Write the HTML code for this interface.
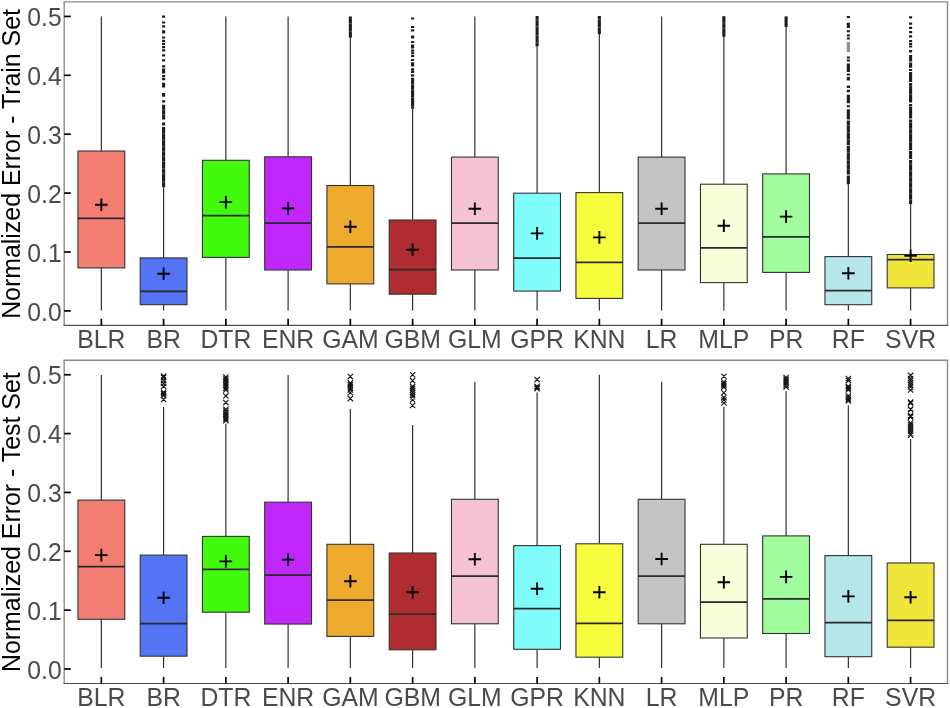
<!DOCTYPE html>
<html><head><meta charset="utf-8"><title>Normalized Error boxplots</title>
<style>html,body{margin:0;padding:0;background:#fff;}svg{display:block;}text{font-family:"Liberation Sans",sans-serif;}.t{opacity:0.999;}</style></head><body>
<svg width="950" height="708" viewBox="0 0 950 708">
<rect x="0" y="0" width="950" height="708" fill="#ffffff"/>
<g class="t">
<path d="M64.2 325.4V1.85H947.5V325.4" fill="none" stroke="#8c8c8c" stroke-width="1.4"/>
<path d="M63.5 325.4H948.2" fill="none" stroke="#4f4f4f" stroke-width="1.1"/>
<path d="M101.35 16.5V151.05M101.35 267.9V310.5" stroke="#333333" stroke-width="1.2" fill="none"/>
<rect x="77.95" y="151.05" width="46.8" height="116.85" fill="#F37D73" stroke="#333333" stroke-width="1.1"/>
<path d="M77.95 218.4H124.75" stroke="#2a2a2a" stroke-width="1.75" fill="none"/>
<path d="M95.05 204.7H107.65M101.35 198.40V211.00" stroke="#000" stroke-width="1.9" fill="none"/>
<path d="M163.60 187.2V257.9M163.60 304.7V310.5" stroke="#333333" stroke-width="1.2" fill="none"/>
<rect x="140.20" y="257.9" width="46.8" height="46.80" fill="#5573F5" stroke="#333333" stroke-width="1.1"/>
<path d="M140.20 291.3H187.00" stroke="#2a2a2a" stroke-width="1.75" fill="none"/>
<path d="M157.30 273.7H169.90M163.60 267.40V280.00" stroke="#000" stroke-width="1.9" fill="none"/>
<path d="M225.85 16.5V160.3M225.85 257.4V310.5" stroke="#333333" stroke-width="1.2" fill="none"/>
<rect x="202.45" y="160.3" width="46.8" height="97.10" fill="#42FA0C" stroke="#333333" stroke-width="1.1"/>
<path d="M202.45 215.5H249.25" stroke="#2a2a2a" stroke-width="1.75" fill="none"/>
<path d="M219.55 202.1H232.15M225.85 195.80V208.40" stroke="#000" stroke-width="1.9" fill="none"/>
<path d="M288.10 16.5V156.8M288.10 270.0V310.5" stroke="#333333" stroke-width="1.2" fill="none"/>
<rect x="264.70" y="156.8" width="46.8" height="113.20" fill="#C027FA" stroke="#333333" stroke-width="1.1"/>
<path d="M264.70 223.2H311.50" stroke="#2a2a2a" stroke-width="1.75" fill="none"/>
<path d="M281.80 208.4H294.40M288.10 202.10V214.70" stroke="#000" stroke-width="1.9" fill="none"/>
<path d="M350.35 37.7V185.5M350.35 283.9V310.5" stroke="#333333" stroke-width="1.2" fill="none"/>
<rect x="326.95" y="185.5" width="46.8" height="98.40" fill="#EDAA2C" stroke="#333333" stroke-width="1.1"/>
<path d="M326.95 246.8H373.75" stroke="#2a2a2a" stroke-width="1.75" fill="none"/>
<path d="M344.05 226.8H356.65M350.35 220.50V233.10" stroke="#000" stroke-width="1.9" fill="none"/>
<path d="M412.60 108.7V220.0M412.60 294.2V310.5" stroke="#333333" stroke-width="1.2" fill="none"/>
<rect x="389.20" y="220.0" width="46.8" height="74.20" fill="#AF2D30" stroke="#333333" stroke-width="1.1"/>
<path d="M389.20 269.7H436.00" stroke="#2a2a2a" stroke-width="1.75" fill="none"/>
<path d="M406.30 249.7H418.90M412.60 243.40V256.00" stroke="#000" stroke-width="1.9" fill="none"/>
<path d="M474.85 16.5V157.1M474.85 270.0V310.5" stroke="#333333" stroke-width="1.2" fill="none"/>
<rect x="451.45" y="157.1" width="46.8" height="112.90" fill="#F5C2D3" stroke="#333333" stroke-width="1.1"/>
<path d="M451.45 223.2H498.25" stroke="#2a2a2a" stroke-width="1.75" fill="none"/>
<path d="M468.55 208.7H481.15M474.85 202.40V215.00" stroke="#000" stroke-width="1.9" fill="none"/>
<path d="M537.10 46.5V193.2M537.10 291.05V310.5" stroke="#333333" stroke-width="1.2" fill="none"/>
<rect x="513.70" y="193.2" width="46.8" height="97.85" fill="#80FCFA" stroke="#333333" stroke-width="1.1"/>
<path d="M513.70 258.2H560.50" stroke="#2a2a2a" stroke-width="1.75" fill="none"/>
<path d="M530.80 233.4H543.40M537.10 227.10V239.70" stroke="#000" stroke-width="1.9" fill="none"/>
<path d="M599.35 34.1V192.6M599.35 298.4V310.5" stroke="#333333" stroke-width="1.2" fill="none"/>
<rect x="575.95" y="192.6" width="46.8" height="105.80" fill="#F6FD3C" stroke="#333333" stroke-width="1.1"/>
<path d="M575.95 262.4H622.75" stroke="#2a2a2a" stroke-width="1.75" fill="none"/>
<path d="M593.05 237.4H605.65M599.35 231.10V243.70" stroke="#000" stroke-width="1.9" fill="none"/>
<path d="M661.60 16.5V157.1M661.60 270.0V310.5" stroke="#333333" stroke-width="1.2" fill="none"/>
<rect x="638.20" y="157.1" width="46.8" height="112.90" fill="#C4C4C4" stroke="#333333" stroke-width="1.1"/>
<path d="M638.20 223.2H685.00" stroke="#2a2a2a" stroke-width="1.75" fill="none"/>
<path d="M655.30 208.7H667.90M661.60 202.40V215.00" stroke="#000" stroke-width="1.9" fill="none"/>
<path d="M723.85 36.8V184.2M723.85 282.6V310.5" stroke="#333333" stroke-width="1.2" fill="none"/>
<rect x="700.45" y="184.2" width="46.8" height="98.40" fill="#F8FED9" stroke="#333333" stroke-width="1.1"/>
<path d="M700.45 247.9H747.25" stroke="#2a2a2a" stroke-width="1.75" fill="none"/>
<path d="M717.55 225.8H730.15M723.85 219.50V232.10" stroke="#000" stroke-width="1.9" fill="none"/>
<path d="M786.10 27.0V173.9M786.10 272.4V310.5" stroke="#333333" stroke-width="1.2" fill="none"/>
<rect x="762.70" y="173.9" width="46.8" height="98.50" fill="#A0FC9D" stroke="#333333" stroke-width="1.1"/>
<path d="M762.70 236.8H809.50" stroke="#2a2a2a" stroke-width="1.75" fill="none"/>
<path d="M779.80 216.6H792.40M786.10 210.30V222.90" stroke="#000" stroke-width="1.9" fill="none"/>
<path d="M848.35 184.2V256.6M848.35 304.7V310.5" stroke="#333333" stroke-width="1.2" fill="none"/>
<rect x="824.95" y="256.6" width="46.8" height="48.10" fill="#B6E5EA" stroke="#333333" stroke-width="1.1"/>
<path d="M824.95 290.5H871.75" stroke="#2a2a2a" stroke-width="1.75" fill="none"/>
<path d="M842.05 273.2H854.65M848.35 266.90V279.50" stroke="#000" stroke-width="1.9" fill="none"/>
<path d="M910.60 204.0V254.5M910.60 287.9V310.5" stroke="#333333" stroke-width="1.2" fill="none"/>
<rect x="887.20" y="254.5" width="46.8" height="33.40" fill="#F0E53B" stroke="#333333" stroke-width="1.1"/>
<path d="M887.20 259.5H934.00" stroke="#2a2a2a" stroke-width="1.75" fill="none"/>
<path d="M904.30 255.8H916.90M910.60 249.50V262.10" stroke="#000" stroke-width="1.9" fill="none"/>
<path d="M162.05 15.60h3.1v2.20h-3.1zM162.05 21.40h3.1v2.20h-3.1zM162.05 25.30h3.1v2.20h-3.1zM162.05 36.40h3.1v2.20h-3.1zM162.05 39.80h3.1v2.20h-3.1zM162.05 42.70h3.1v2.20h-3.1zM162.05 46.10h3.1v2.20h-3.1zM162.05 49.20h3.1v2.20h-3.1zM162.05 54.30h3.1v2.20h-3.1zM162.05 59.20h3.1v2.20h-3.1zM162.05 65.30h3.1v2.20h-3.1zM162.05 75.10h3.1v2.20h-3.1zM162.05 78.00h3.1v2.20h-3.1zM162.05 100.20h3.1v2.20h-3.1zM162.05 30.30h3.1v3.30h-3.1zM162.05 68.60h3.1v4.80h-3.1zM162.05 82.80h3.1v4.60h-3.1zM162.05 93.00h3.1v3.80h-3.1zM162.05 104.70h3.1v14.80h-3.1zM162.05 122.60h3.1v3.00h-3.1zM162.05 127.00h3.1v60.20h-3.1z" fill="#1c1c1c"/>
<path d="M162.05 110.02h3.1M162.05 114.60h3.1M162.05 133.70h3.1M162.05 139.77h3.1M162.05 146.91h3.1M162.05 151.59h3.1M162.05 156.31h3.1M162.05 161.40h3.1M162.05 168.71h3.1M162.05 173.38h3.1M162.05 182.22h3.1" stroke="#fff" stroke-opacity="0.45" stroke-width="0.6" fill="none"/>
<path d="M348.80 16.50h3.1v21.20h-3.1z" fill="#1c1c1c"/>
<path d="M348.80 23.34h3.1M348.80 31.64h3.1" stroke="#fff" stroke-opacity="0.45" stroke-width="0.6" fill="none"/>
<path d="M411.05 17.40h3.1v2.20h-3.1zM411.05 25.90h3.1v2.20h-3.1zM411.05 29.30h3.1v2.20h-3.1zM411.05 40.90h3.1v2.20h-3.1zM411.05 44.50h3.1v2.20h-3.1zM411.05 49.60h3.1v2.20h-3.1zM411.05 54.70h3.1v2.20h-3.1zM411.05 58.90h3.1v2.20h-3.1zM411.05 62.30h3.1v2.20h-3.1zM411.05 68.30h3.1v2.20h-3.1zM411.05 74.20h3.1v2.20h-3.1zM411.05 35.50h3.1v3.10h-3.1zM411.05 46.60h3.1v1.80h-3.1zM411.05 52.20h3.1v1.80h-3.1zM411.05 64.60h3.1v2.00h-3.1zM411.05 70.80h3.1v2.20h-3.1zM411.05 77.80h3.1v30.90h-3.1z" fill="#1c1c1c"/>
<path d="M411.05 84.31h3.1M411.05 89.73h3.1M411.05 97.58h3.1M411.05 106.32h3.1" stroke="#fff" stroke-opacity="0.45" stroke-width="0.6" fill="none"/>
<path d="M535.55 16.00h3.1v30.50h-3.1z" fill="#1c1c1c"/>
<path d="M535.55 19.99h3.1M535.55 26.68h3.1M535.55 35.53h3.1M535.55 42.65h3.1" stroke="#fff" stroke-opacity="0.45" stroke-width="0.6" fill="none"/>
<path d="M597.80 16.00h3.1v18.10h-3.1z" fill="#1c1c1c"/>
<path d="M597.80 19.52h3.1M597.80 27.51h3.1" stroke="#fff" stroke-opacity="0.45" stroke-width="0.6" fill="none"/>
<path d="M722.30 16.20h3.1v20.60h-3.1z" fill="#1c1c1c"/>
<path d="M722.30 22.94h3.1M722.30 28.57h3.1" stroke="#fff" stroke-opacity="0.45" stroke-width="0.6" fill="none"/>
<path d="M784.55 16.40h3.1v10.60h-3.1z" fill="#1c1c1c"/>
<path d="M846.80 15.90h3.1v2.00h-3.1zM846.80 30.30h3.1v2.00h-3.1zM846.80 34.50h3.1v2.00h-3.1zM846.80 37.50h3.1v2.00h-3.1zM846.80 56.50h3.1v2.00h-3.1zM846.80 59.60h3.1v2.00h-3.1zM846.80 73.40h3.1v2.00h-3.1zM846.80 105.30h3.1v2.00h-3.1zM846.80 22.80h3.1v5.10h-3.1zM846.80 63.40h3.1v8.50h-3.1zM846.80 77.00h3.1v3.40h-3.1zM846.80 85.50h3.1v2.50h-3.1zM846.80 89.70h3.1v2.50h-3.1zM846.80 94.80h3.1v8.40h-3.1zM846.80 109.20h3.1v10.30h-3.1zM846.80 120.50h3.1v24.70h-3.1zM846.80 146.00h3.1v28.60h-3.1zM846.80 175.40h3.1v8.80h-3.1zM846.80 42.50h3.1v1.00h-3.1zM846.80 44.50h3.1v1.00h-3.1zM846.80 46.50h3.1v1.00h-3.1zM846.80 48.50h3.1v1.00h-3.1zM846.80 50.50h3.1v1.00h-3.1z" fill="#1c1c1c"/>
<path d="M846.80 125.42h3.1M846.80 132.59h3.1M846.80 139.50h3.1M846.80 152.61h3.1M846.80 160.24h3.1M846.80 164.64h3.1M846.80 169.35h3.1" stroke="#fff" stroke-opacity="0.45" stroke-width="0.6" fill="none"/>
<path d="M909.05 16.30h3.1v2.20h-3.1zM909.05 22.50h3.1v2.20h-3.1zM909.05 26.80h3.1v2.20h-3.1zM909.05 40.00h3.1v2.20h-3.1zM909.05 42.90h3.1v2.20h-3.1zM909.05 45.40h3.1v2.20h-3.1zM909.05 68.90h3.1v2.20h-3.1zM909.05 103.90h3.1v2.20h-3.1zM909.05 31.00h3.1v2.30h-3.1zM909.05 35.30h3.1v2.10h-3.1zM909.05 50.00h3.1v2.60h-3.1zM909.05 55.00h3.1v6.50h-3.1zM909.05 62.60h3.1v5.10h-3.1zM909.05 71.90h3.1v10.20h-3.1zM909.05 83.00h3.1v19.40h-3.1zM909.05 106.60h3.1v12.00h-3.1zM909.05 119.40h3.1v30.90h-3.1zM909.05 151.10h3.1v8.00h-3.1zM909.05 159.90h3.1v44.10h-3.1z" fill="#1c1c1c"/>
<path d="M909.05 86.12h3.1M909.05 94.39h3.1M909.05 122.47h3.1M909.05 129.00h3.1M909.05 133.81h3.1M909.05 142.16h3.1M909.05 164.11h3.1M909.05 170.90h3.1M909.05 177.12h3.1M909.05 182.17h3.1M909.05 188.05h3.1M909.05 193.72h3.1M909.05 199.79h3.1" stroke="#fff" stroke-opacity="0.45" stroke-width="0.6" fill="none"/>
<path d="M64.2 310.90h6.6" stroke="#000" stroke-width="1.7"/>
<text transform="translate(61.7 320.55) scale(1 1.05)" font-size="24.7" fill="#4a4a4a" text-anchor="end">0.0</text>
<path d="M64.2 252.00h6.6" stroke="#000" stroke-width="1.7"/>
<text transform="translate(61.7 261.65) scale(1 1.05)" font-size="24.7" fill="#4a4a4a" text-anchor="end">0.1</text>
<path d="M64.2 193.10h6.6" stroke="#000" stroke-width="1.7"/>
<text transform="translate(61.7 202.75) scale(1 1.05)" font-size="24.7" fill="#4a4a4a" text-anchor="end">0.2</text>
<path d="M64.2 134.20h6.6" stroke="#000" stroke-width="1.7"/>
<text transform="translate(61.7 143.85) scale(1 1.05)" font-size="24.7" fill="#4a4a4a" text-anchor="end">0.3</text>
<path d="M64.2 75.30h6.6" stroke="#000" stroke-width="1.7"/>
<text transform="translate(61.7 84.95) scale(1 1.05)" font-size="24.7" fill="#4a4a4a" text-anchor="end">0.4</text>
<path d="M64.2 16.40h6.6" stroke="#000" stroke-width="1.7"/>
<text transform="translate(61.7 26.05) scale(1 1.05)" font-size="24.7" fill="#4a4a4a" text-anchor="end">0.5</text>
<path d="M101.35 325.4v-6.6" stroke="#000" stroke-width="1.7"/>
<text transform="translate(101.35 347.70) scale(1 1.05)" font-size="24.8" fill="#4a4a4a" text-anchor="middle">BLR</text>
<path d="M163.60 325.4v-6.6" stroke="#000" stroke-width="1.7"/>
<text transform="translate(163.60 347.70) scale(1 1.05)" font-size="24.8" fill="#4a4a4a" text-anchor="middle">BR</text>
<path d="M225.85 325.4v-6.6" stroke="#000" stroke-width="1.7"/>
<text transform="translate(225.85 347.70) scale(1 1.05)" font-size="24.8" fill="#4a4a4a" text-anchor="middle">DTR</text>
<path d="M288.10 325.4v-6.6" stroke="#000" stroke-width="1.7"/>
<text transform="translate(288.10 347.70) scale(1 1.05)" font-size="24.8" fill="#4a4a4a" text-anchor="middle">ENR</text>
<path d="M350.35 325.4v-6.6" stroke="#000" stroke-width="1.7"/>
<text transform="translate(350.35 347.70) scale(1 1.05)" font-size="24.8" fill="#4a4a4a" text-anchor="middle">GAM</text>
<path d="M412.60 325.4v-6.6" stroke="#000" stroke-width="1.7"/>
<text transform="translate(412.60 347.70) scale(1 1.05)" font-size="24.8" fill="#4a4a4a" text-anchor="middle">GBM</text>
<path d="M474.85 325.4v-6.6" stroke="#000" stroke-width="1.7"/>
<text transform="translate(474.85 347.70) scale(1 1.05)" font-size="24.8" fill="#4a4a4a" text-anchor="middle">GLM</text>
<path d="M537.10 325.4v-6.6" stroke="#000" stroke-width="1.7"/>
<text transform="translate(537.10 347.70) scale(1 1.05)" font-size="24.8" fill="#4a4a4a" text-anchor="middle">GPR</text>
<path d="M599.35 325.4v-6.6" stroke="#000" stroke-width="1.7"/>
<text transform="translate(599.35 347.70) scale(1 1.05)" font-size="24.8" fill="#4a4a4a" text-anchor="middle">KNN</text>
<path d="M661.60 325.4v-6.6" stroke="#000" stroke-width="1.7"/>
<text transform="translate(661.60 347.70) scale(1 1.05)" font-size="24.8" fill="#4a4a4a" text-anchor="middle">LR</text>
<path d="M723.85 325.4v-6.6" stroke="#000" stroke-width="1.7"/>
<text transform="translate(723.85 347.70) scale(1 1.05)" font-size="24.8" fill="#4a4a4a" text-anchor="middle">MLP</text>
<path d="M786.10 325.4v-6.6" stroke="#000" stroke-width="1.7"/>
<text transform="translate(786.10 347.70) scale(1 1.05)" font-size="24.8" fill="#4a4a4a" text-anchor="middle">PR</text>
<path d="M848.35 325.4v-6.6" stroke="#000" stroke-width="1.7"/>
<text transform="translate(848.35 347.70) scale(1 1.05)" font-size="24.8" fill="#4a4a4a" text-anchor="middle">RF</text>
<path d="M910.60 325.4v-6.6" stroke="#000" stroke-width="1.7"/>
<text transform="translate(910.60 347.70) scale(1 1.05)" font-size="24.8" fill="#4a4a4a" text-anchor="middle">SVR</text>
<text transform="translate(19.6 163.95) rotate(-90)" font-size="24.9" fill="#000" text-anchor="middle">Normalized Error - Train Set</text>
</g>
<g class="t">
<path d="M64.2 683.5V360.2H947.5V683.5" fill="none" stroke="#8c8c8c" stroke-width="1.4"/>
<path d="M63.5 683.5H948.2" fill="none" stroke="#4f4f4f" stroke-width="1.1"/>
<path d="M101.35 374.9V500.1M101.35 619.3V668" stroke="#333333" stroke-width="1.2" fill="none"/>
<rect x="77.95" y="500.1" width="46.8" height="119.20" fill="#F37D73" stroke="#333333" stroke-width="1.1"/>
<path d="M77.95 566.7H124.75" stroke="#2a2a2a" stroke-width="1.75" fill="none"/>
<path d="M95.05 555.1H107.65M101.35 548.80V561.40" stroke="#000" stroke-width="1.9" fill="none"/>
<path d="M163.60 406.7V555.1M163.60 656.2V668" stroke="#333333" stroke-width="1.2" fill="none"/>
<rect x="140.20" y="555.1" width="46.8" height="101.10" fill="#5573F5" stroke="#333333" stroke-width="1.1"/>
<path d="M140.20 623.5H187.00" stroke="#2a2a2a" stroke-width="1.75" fill="none"/>
<path d="M157.30 597.7H169.90M163.60 591.40V604.00" stroke="#000" stroke-width="1.9" fill="none"/>
<path d="M225.85 423.4V536.4M225.85 612.2V668" stroke="#333333" stroke-width="1.2" fill="none"/>
<rect x="202.45" y="536.4" width="46.8" height="75.80" fill="#42FA0C" stroke="#333333" stroke-width="1.1"/>
<path d="M202.45 569.3H249.25" stroke="#2a2a2a" stroke-width="1.75" fill="none"/>
<path d="M219.55 561.4H232.15M225.85 555.10V567.70" stroke="#000" stroke-width="1.9" fill="none"/>
<path d="M288.10 375.0V502.2M288.10 624.05V668" stroke="#333333" stroke-width="1.2" fill="none"/>
<rect x="264.70" y="502.2" width="46.8" height="121.85" fill="#C027FA" stroke="#333333" stroke-width="1.1"/>
<path d="M264.70 575.1H311.50" stroke="#2a2a2a" stroke-width="1.75" fill="none"/>
<path d="M281.80 559.6H294.40M288.10 553.30V565.90" stroke="#000" stroke-width="1.9" fill="none"/>
<path d="M350.35 409.0V544.3M350.35 636.4V668" stroke="#333333" stroke-width="1.2" fill="none"/>
<rect x="326.95" y="544.3" width="46.8" height="92.10" fill="#EDAA2C" stroke="#333333" stroke-width="1.1"/>
<path d="M326.95 600.1H373.75" stroke="#2a2a2a" stroke-width="1.75" fill="none"/>
<path d="M344.05 581.2H356.65M350.35 574.90V587.50" stroke="#000" stroke-width="1.9" fill="none"/>
<path d="M412.60 425.0V553.0M412.60 649.8V668" stroke="#333333" stroke-width="1.2" fill="none"/>
<rect x="389.20" y="553.0" width="46.8" height="96.80" fill="#AF2D30" stroke="#333333" stroke-width="1.1"/>
<path d="M389.20 614.05H436.00" stroke="#2a2a2a" stroke-width="1.75" fill="none"/>
<path d="M406.30 592.2H418.90M412.60 585.90V598.50" stroke="#000" stroke-width="1.9" fill="none"/>
<path d="M474.85 381.7V499.3M474.85 623.8V668" stroke="#333333" stroke-width="1.2" fill="none"/>
<rect x="451.45" y="499.3" width="46.8" height="124.50" fill="#F5C2D3" stroke="#333333" stroke-width="1.1"/>
<path d="M451.45 576.2H498.25" stroke="#2a2a2a" stroke-width="1.75" fill="none"/>
<path d="M468.55 559.3H481.15M474.85 553.00V565.60" stroke="#000" stroke-width="1.9" fill="none"/>
<path d="M537.10 392.4V545.6M537.10 649.3V668" stroke="#333333" stroke-width="1.2" fill="none"/>
<rect x="513.70" y="545.6" width="46.8" height="103.70" fill="#80FCFA" stroke="#333333" stroke-width="1.1"/>
<path d="M513.70 608.5H560.50" stroke="#2a2a2a" stroke-width="1.75" fill="none"/>
<path d="M530.80 588.8H543.40M537.10 582.50V595.10" stroke="#000" stroke-width="1.9" fill="none"/>
<path d="M599.35 374.7V543.8M599.35 657.2V668" stroke="#333333" stroke-width="1.2" fill="none"/>
<rect x="575.95" y="543.8" width="46.8" height="113.40" fill="#F6FD3C" stroke="#333333" stroke-width="1.1"/>
<path d="M575.95 623.3H622.75" stroke="#2a2a2a" stroke-width="1.75" fill="none"/>
<path d="M593.05 592.2H605.65M599.35 585.90V598.50" stroke="#000" stroke-width="1.9" fill="none"/>
<path d="M661.60 381.7V499.3M661.60 623.8V668" stroke="#333333" stroke-width="1.2" fill="none"/>
<rect x="638.20" y="499.3" width="46.8" height="124.50" fill="#C4C4C4" stroke="#333333" stroke-width="1.1"/>
<path d="M638.20 576.2H685.00" stroke="#2a2a2a" stroke-width="1.75" fill="none"/>
<path d="M655.30 559.05H667.90M661.60 552.75V565.35" stroke="#000" stroke-width="1.9" fill="none"/>
<path d="M723.85 406.7V544.3M723.85 638.0V668" stroke="#333333" stroke-width="1.2" fill="none"/>
<rect x="700.45" y="544.3" width="46.8" height="93.70" fill="#F8FED9" stroke="#333333" stroke-width="1.1"/>
<path d="M700.45 602.2H747.25" stroke="#2a2a2a" stroke-width="1.75" fill="none"/>
<path d="M717.55 582.2H730.15M723.85 575.90V588.50" stroke="#000" stroke-width="1.9" fill="none"/>
<path d="M786.10 391.0V535.9M786.10 633.5V668" stroke="#333333" stroke-width="1.2" fill="none"/>
<rect x="762.70" y="535.9" width="46.8" height="97.60" fill="#A0FC9D" stroke="#333333" stroke-width="1.1"/>
<path d="M762.70 598.8H809.50" stroke="#2a2a2a" stroke-width="1.75" fill="none"/>
<path d="M779.80 576.9H792.40M786.10 570.60V583.20" stroke="#000" stroke-width="1.9" fill="none"/>
<path d="M848.35 405.5V555.6M848.35 656.7V668" stroke="#333333" stroke-width="1.2" fill="none"/>
<rect x="824.95" y="555.6" width="46.8" height="101.10" fill="#B6E5EA" stroke="#333333" stroke-width="1.1"/>
<path d="M824.95 622.5H871.75" stroke="#2a2a2a" stroke-width="1.75" fill="none"/>
<path d="M842.05 596.4H854.65M848.35 590.10V602.70" stroke="#000" stroke-width="1.9" fill="none"/>
<path d="M910.60 438.9V563.0M910.60 647.2V668" stroke="#333333" stroke-width="1.2" fill="none"/>
<rect x="887.20" y="563.0" width="46.8" height="84.20" fill="#F0E53B" stroke="#333333" stroke-width="1.1"/>
<path d="M887.20 620.4H934.00" stroke="#2a2a2a" stroke-width="1.75" fill="none"/>
<path d="M904.30 597.2H916.90M910.60 590.90V603.50" stroke="#000" stroke-width="1.9" fill="none"/>
<path d="M160.95 373.35l5.3 5.3M160.95 378.65l5.3 -5.3M160.95 374.75l5.3 5.3M160.95 380.05l5.3 -5.3M160.95 377.75l5.3 5.3M160.95 383.05l5.3 -5.3M160.95 380.75l5.3 5.3M160.95 386.05l5.3 -5.3M160.95 383.75l5.3 5.3M160.95 389.05l5.3 -5.3M160.95 389.55l5.3 5.3M160.95 394.85l5.3 -5.3M160.95 391.15l5.3 5.3M160.95 396.45l5.3 -5.3M160.95 392.75l5.3 5.3M160.95 398.05l5.3 -5.3M160.95 396.75l5.3 5.3M160.95 402.05l5.3 -5.3" stroke="#161616" stroke-width="1.1" fill="none"/>
<path d="M223.20 374.35l5.3 5.3M223.20 379.65l5.3 -5.3M223.20 376.21l5.3 5.3M223.20 381.51l5.3 -5.3M223.20 378.06l5.3 5.3M223.20 383.36l5.3 -5.3M223.20 379.92l5.3 5.3M223.20 385.22l5.3 -5.3M223.20 381.78l5.3 5.3M223.20 387.08l5.3 -5.3M223.20 383.64l5.3 5.3M223.20 388.94l5.3 -5.3M223.20 385.49l5.3 5.3M223.20 390.79l5.3 -5.3M223.20 387.35l5.3 5.3M223.20 392.65l5.3 -5.3M223.20 393.25l5.3 5.3M223.20 398.55l5.3 -5.3M223.20 399.95l5.3 5.3M223.20 405.25l5.3 -5.3M223.20 406.55l5.3 5.3M223.20 411.85l5.3 -5.3M223.20 408.45l5.3 5.3M223.20 413.75l5.3 -5.3M223.20 410.35l5.3 5.3M223.20 415.65l5.3 -5.3M223.20 412.25l5.3 5.3M223.20 417.55l5.3 -5.3M223.20 414.15l5.3 5.3M223.20 419.45l5.3 -5.3M223.20 416.05l5.3 5.3M223.20 421.35l5.3 -5.3M223.20 417.95l5.3 5.3M223.20 423.25l5.3 -5.3" stroke="#161616" stroke-width="1.1" fill="none"/>
<path d="M347.70 373.95l5.3 5.3M347.70 379.25l5.3 -5.3M347.70 380.25l5.3 5.3M347.70 385.55l5.3 -5.3M347.70 382.02l5.3 5.3M347.70 387.32l5.3 -5.3M347.70 383.80l5.3 5.3M347.70 389.10l5.3 -5.3M347.70 385.58l5.3 5.3M347.70 390.88l5.3 -5.3M347.70 387.35l5.3 5.3M347.70 392.65l5.3 -5.3M347.70 390.15l5.3 5.3M347.70 395.45l5.3 -5.3M347.70 395.95l5.3 5.3M347.70 401.25l5.3 -5.3" stroke="#161616" stroke-width="1.1" fill="none"/>
<path d="M409.95 372.15l5.3 5.3M409.95 377.45l5.3 -5.3M409.95 377.95l5.3 5.3M409.95 383.25l5.3 -5.3M409.95 383.75l5.3 5.3M409.95 389.05l5.3 -5.3M409.95 385.83l5.3 5.3M409.95 391.13l5.3 -5.3M409.95 387.91l5.3 5.3M409.95 393.21l5.3 -5.3M409.95 389.99l5.3 5.3M409.95 395.29l5.3 -5.3M409.95 392.07l5.3 5.3M409.95 397.37l5.3 -5.3M409.95 394.15l5.3 5.3M409.95 399.45l5.3 -5.3M409.95 397.05l5.3 5.3M409.95 402.35l5.3 -5.3M409.95 402.85l5.3 5.3M409.95 408.15l5.3 -5.3" stroke="#161616" stroke-width="1.1" fill="none"/>
<path d="M534.45 376.95l5.3 5.3M534.45 382.25l5.3 -5.3M534.45 383.55l5.3 5.3M534.45 388.85l5.3 -5.3M534.45 384.85l5.3 5.3M534.45 390.15l5.3 -5.3M534.45 386.15l5.3 5.3M534.45 391.45l5.3 -5.3" stroke="#161616" stroke-width="1.1" fill="none"/>
<path d="M721.20 373.55l5.3 5.3M721.20 378.85l5.3 -5.3M721.20 379.35l5.3 5.3M721.20 384.65l5.3 -5.3M721.20 381.08l5.3 5.3M721.20 386.38l5.3 -5.3M721.20 382.82l5.3 5.3M721.20 388.12l5.3 -5.3M721.20 384.55l5.3 5.3M721.20 389.85l5.3 -5.3M721.20 390.15l5.3 5.3M721.20 395.45l5.3 -5.3M721.20 394.95l5.3 5.3M721.20 400.25l5.3 -5.3M721.20 397.35l5.3 5.3M721.20 402.65l5.3 -5.3M721.20 400.35l5.3 5.3M721.20 405.65l5.3 -5.3" stroke="#161616" stroke-width="1.1" fill="none"/>
<path d="M783.45 374.85l5.3 5.3M783.45 380.15l5.3 -5.3M783.45 376.75l5.3 5.3M783.45 382.05l5.3 -5.3M783.45 378.65l5.3 5.3M783.45 383.95l5.3 -5.3M783.45 380.55l5.3 5.3M783.45 385.85l5.3 -5.3M783.45 382.45l5.3 5.3M783.45 387.75l5.3 -5.3M783.45 384.35l5.3 5.3M783.45 389.65l5.3 -5.3" stroke="#161616" stroke-width="1.1" fill="none"/>
<path d="M845.70 375.85l5.3 5.3M845.70 381.15l5.3 -5.3M845.70 377.95l5.3 5.3M845.70 383.25l5.3 -5.3M845.70 383.75l5.3 5.3M845.70 389.05l5.3 -5.3M845.70 385.50l5.3 5.3M845.70 390.80l5.3 -5.3M845.70 387.25l5.3 5.3M845.70 392.55l5.3 -5.3M845.70 393.05l5.3 5.3M845.70 398.35l5.3 -5.3M845.70 394.78l5.3 5.3M845.70 400.08l5.3 -5.3M845.70 396.52l5.3 5.3M845.70 401.82l5.3 -5.3M845.70 398.25l5.3 5.3M845.70 403.55l5.3 -5.3" stroke="#161616" stroke-width="1.1" fill="none"/>
<path d="M907.95 372.75l5.3 5.3M907.95 378.05l5.3 -5.3M907.95 375.85l5.3 5.3M907.95 381.15l5.3 -5.3M907.95 377.98l5.3 5.3M907.95 383.27l5.3 -5.3M907.95 380.10l5.3 5.3M907.95 385.40l5.3 -5.3M907.95 382.23l5.3 5.3M907.95 387.52l5.3 -5.3M907.95 384.35l5.3 5.3M907.95 389.65l5.3 -5.3M907.95 387.25l5.3 5.3M907.95 392.55l5.3 -5.3M907.95 399.45l5.3 5.3M907.95 404.75l5.3 -5.3M907.95 400.55l5.3 5.3M907.95 405.85l5.3 -5.3M907.95 406.35l5.3 5.3M907.95 411.65l5.3 -5.3M907.95 406.95l5.3 5.3M907.95 412.25l5.3 -5.3M907.95 412.75l5.3 5.3M907.95 418.05l5.3 -5.3M907.95 414.45l5.3 5.3M907.95 419.75l5.3 -5.3M907.95 420.25l5.3 5.3M907.95 425.55l5.3 -5.3M907.95 422.28l5.3 5.3M907.95 427.58l5.3 -5.3M907.95 424.32l5.3 5.3M907.95 429.62l5.3 -5.3M907.95 426.35l5.3 5.3M907.95 431.65l5.3 -5.3M907.95 428.38l5.3 5.3M907.95 433.68l5.3 -5.3M907.95 430.42l5.3 5.3M907.95 435.72l5.3 -5.3M907.95 432.45l5.3 5.3M907.95 437.75l5.3 -5.3" stroke="#161616" stroke-width="1.1" fill="none"/>
<path d="M64.2 669.00h6.6" stroke="#000" stroke-width="1.7"/>
<text transform="translate(61.7 678.65) scale(1 1.05)" font-size="24.7" fill="#4a4a4a" text-anchor="end">0.0</text>
<path d="M64.2 610.15h6.6" stroke="#000" stroke-width="1.7"/>
<text transform="translate(61.7 619.80) scale(1 1.05)" font-size="24.7" fill="#4a4a4a" text-anchor="end">0.1</text>
<path d="M64.2 551.30h6.6" stroke="#000" stroke-width="1.7"/>
<text transform="translate(61.7 560.95) scale(1 1.05)" font-size="24.7" fill="#4a4a4a" text-anchor="end">0.2</text>
<path d="M64.2 492.45h6.6" stroke="#000" stroke-width="1.7"/>
<text transform="translate(61.7 502.10) scale(1 1.05)" font-size="24.7" fill="#4a4a4a" text-anchor="end">0.3</text>
<path d="M64.2 433.60h6.6" stroke="#000" stroke-width="1.7"/>
<text transform="translate(61.7 443.25) scale(1 1.05)" font-size="24.7" fill="#4a4a4a" text-anchor="end">0.4</text>
<path d="M64.2 374.75h6.6" stroke="#000" stroke-width="1.7"/>
<text transform="translate(61.7 384.40) scale(1 1.05)" font-size="24.7" fill="#4a4a4a" text-anchor="end">0.5</text>
<path d="M101.35 683.5v-6.6" stroke="#000" stroke-width="1.7"/>
<text transform="translate(101.35 705.80) scale(1 1.05)" font-size="24.8" fill="#4a4a4a" text-anchor="middle">BLR</text>
<path d="M163.60 683.5v-6.6" stroke="#000" stroke-width="1.7"/>
<text transform="translate(163.60 705.80) scale(1 1.05)" font-size="24.8" fill="#4a4a4a" text-anchor="middle">BR</text>
<path d="M225.85 683.5v-6.6" stroke="#000" stroke-width="1.7"/>
<text transform="translate(225.85 705.80) scale(1 1.05)" font-size="24.8" fill="#4a4a4a" text-anchor="middle">DTR</text>
<path d="M288.10 683.5v-6.6" stroke="#000" stroke-width="1.7"/>
<text transform="translate(288.10 705.80) scale(1 1.05)" font-size="24.8" fill="#4a4a4a" text-anchor="middle">ENR</text>
<path d="M350.35 683.5v-6.6" stroke="#000" stroke-width="1.7"/>
<text transform="translate(350.35 705.80) scale(1 1.05)" font-size="24.8" fill="#4a4a4a" text-anchor="middle">GAM</text>
<path d="M412.60 683.5v-6.6" stroke="#000" stroke-width="1.7"/>
<text transform="translate(412.60 705.80) scale(1 1.05)" font-size="24.8" fill="#4a4a4a" text-anchor="middle">GBM</text>
<path d="M474.85 683.5v-6.6" stroke="#000" stroke-width="1.7"/>
<text transform="translate(474.85 705.80) scale(1 1.05)" font-size="24.8" fill="#4a4a4a" text-anchor="middle">GLM</text>
<path d="M537.10 683.5v-6.6" stroke="#000" stroke-width="1.7"/>
<text transform="translate(537.10 705.80) scale(1 1.05)" font-size="24.8" fill="#4a4a4a" text-anchor="middle">GPR</text>
<path d="M599.35 683.5v-6.6" stroke="#000" stroke-width="1.7"/>
<text transform="translate(599.35 705.80) scale(1 1.05)" font-size="24.8" fill="#4a4a4a" text-anchor="middle">KNN</text>
<path d="M661.60 683.5v-6.6" stroke="#000" stroke-width="1.7"/>
<text transform="translate(661.60 705.80) scale(1 1.05)" font-size="24.8" fill="#4a4a4a" text-anchor="middle">LR</text>
<path d="M723.85 683.5v-6.6" stroke="#000" stroke-width="1.7"/>
<text transform="translate(723.85 705.80) scale(1 1.05)" font-size="24.8" fill="#4a4a4a" text-anchor="middle">MLP</text>
<path d="M786.10 683.5v-6.6" stroke="#000" stroke-width="1.7"/>
<text transform="translate(786.10 705.80) scale(1 1.05)" font-size="24.8" fill="#4a4a4a" text-anchor="middle">PR</text>
<path d="M848.35 683.5v-6.6" stroke="#000" stroke-width="1.7"/>
<text transform="translate(848.35 705.80) scale(1 1.05)" font-size="24.8" fill="#4a4a4a" text-anchor="middle">RF</text>
<path d="M910.60 683.5v-6.6" stroke="#000" stroke-width="1.7"/>
<text transform="translate(910.60 705.80) scale(1 1.05)" font-size="24.8" fill="#4a4a4a" text-anchor="middle">SVR</text>
<text transform="translate(19.6 522.17) rotate(-90)" font-size="24.9" fill="#000" text-anchor="middle">Normalized Error - Test Set</text>
</g>
</svg></body></html>
